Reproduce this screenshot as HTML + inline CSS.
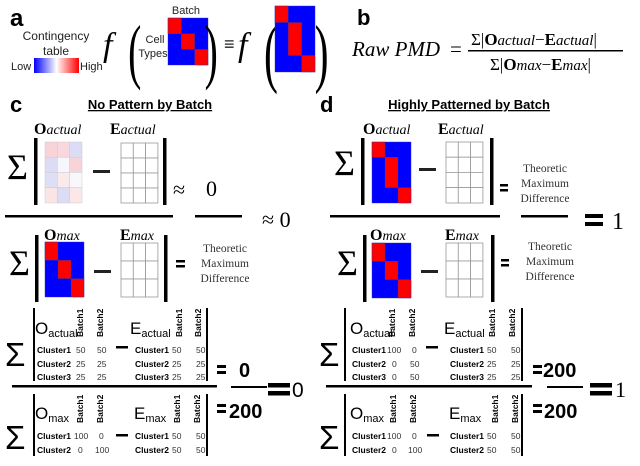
<!DOCTYPE html>
<html><head><meta charset="utf-8"><style>
body{margin:0;background:#fff;width:640px;height:466px;overflow:hidden}
svg{display:block}
.s{font-family:"Liberation Sans",sans-serif}
.r{font-family:"Liberation Serif","DejaVu Serif",serif}
.cl{font-family:"Liberation Sans",sans-serif;font-size:8.5px;font-weight:bold}
.v{font-family:"Liberation Sans",sans-serif;font-size:8.5px;fill:#333}
.bt{font-family:"Liberation Sans",sans-serif;font-size:8.5px;font-weight:bold}
.g rect{fill:#fff;stroke:#999;stroke-width:0.8}
</style></head><body>
<svg width="640" height="466" viewBox="0 0 640 466" xmlns="http://www.w3.org/2000/svg">
<defs><linearGradient id="gr" x1="0" x2="1"><stop offset="0" stop-color="#0000ff"/><stop offset="0.5" stop-color="#fff"/><stop offset="1" stop-color="#ff0000"/></linearGradient></defs>

<!-- panel a -->
<text x="10" y="26" class="s" font-size="24" font-weight="bold">a</text>
<text x="56" y="40" class="s" font-size="12" text-anchor="middle" fill="#222">Contingency</text>
<text x="56" y="55" class="s" font-size="12" text-anchor="middle" fill="#222">table</text>
<rect x="34" y="58" width="45" height="15" fill="url(#gr)"/>
<text x="11" y="70" class="s" font-size="11" fill="#222">Low</text>
<text x="80" y="70" class="s" font-size="11" fill="#222">High</text>
<text x="103" y="56" class="r" font-size="34" font-style="italic">f</text>
<text x="128" y="75" class="r" font-size="72" font-weight="100" transform="scale(0.55,1) translate(105,0)">(</text>
<text x="155" y="43" class="s" font-size="11" text-anchor="middle" fill="#222">Cell</text>
<text x="153" y="57" class="s" font-size="11" text-anchor="middle" fill="#222">Types</text>
<text x="186" y="14" class="s" font-size="11" text-anchor="middle" fill="#222">Batch</text>
<g stroke="#3333aa" stroke-width="0.4">
<rect x="168" y="18" width="40" height="47" fill="#0000ff"/>
<rect x="168" y="18" width="13.3" height="15.7" fill="#ff0000"/>
<rect x="181.3" y="33.7" width="13.3" height="15.7" fill="#ff0000"/>
<rect x="194.6" y="49.4" width="13.4" height="15.6" fill="#ff0000"/>
</g>
<text x="372" y="75" class="r" font-size="72" transform="scale(0.55,1)">)</text>
<text x="224" y="50" class="s" font-size="18" fill="#222">≡</text>
<text x="238" y="56" class="r" font-size="34" font-style="italic">f</text>
<text x="480" y="78" class="r" font-size="76" transform="scale(0.55,1)">(</text>
<g stroke="#3333aa" stroke-width="0.4">
<rect x="275" y="6" width="40" height="66" fill="#0000ff"/>
<rect x="275" y="6" width="13.3" height="16.5" fill="#ff0000"/>
<rect x="288.3" y="22.5" width="13.3" height="33" fill="#ff0000"/>
<rect x="301.6" y="55.5" width="13.4" height="16.5" fill="#ff0000"/>
</g>
<text x="572" y="78" class="r" font-size="76" transform="scale(0.55,1)">)</text>

<!-- panel b -->
<text x="357" y="25" class="s" font-size="22" font-weight="bold">b</text>
<text x="352" y="56" class="r" font-size="21" font-style="italic">Raw PMD</text>
<text x="450" y="56" class="r" font-size="21">=</text>
<text x="471" y="45" class="r" font-size="17">Σ|<tspan font-weight="bold">O</tspan><tspan font-style="italic" font-size="15">actual</tspan>−<tspan font-weight="bold">E</tspan><tspan font-style="italic" font-size="15">actual</tspan>|</text>
<rect x="468" y="50" width="155" height="1.5" fill="#000"/>
<text x="490" y="70" class="r" font-size="17">Σ|<tspan font-weight="bold">O</tspan><tspan font-style="italic" font-size="15">max</tspan>−<tspan font-weight="bold">E</tspan><tspan font-style="italic" font-size="15">max</tspan>|</text>

<!-- panel c top -->
<text x="10" y="112" class="s" font-size="22" font-weight="bold">c</text>
<text x="150" y="109" class="s" font-size="13" font-weight="bold" text-anchor="middle" text-decoration="underline">No Pattern by Batch</text>
<text x="34" y="134" class="r" font-size="16"><tspan font-weight="bold">O</tspan><tspan font-style="italic" font-size="14">actual</tspan></text>
<text x="110" y="134" class="r" font-size="16"><tspan font-weight="bold">E</tspan><tspan font-style="italic" font-size="14">actual</tspan></text>
<text x="7" y="179" class="r" font-size="36">Σ</text>
<rect x="34" y="138" width="3.5" height="67" fill="#000"/>
<g stroke="#ccc" stroke-width="0.5">
<rect x="45" y="142" width="12.3" height="15.2" fill="#f8d4d8"/><rect x="57.3" y="142" width="12.3" height="15.2" fill="#f8d8dc"/><rect x="69.6" y="142" width="12.4" height="15.2" fill="#dcdcf6"/>
<rect x="45" y="157.2" width="12.3" height="15.2" fill="#dcdcf4"/><rect x="57.3" y="157.2" width="12.3" height="15.2" fill="#f6f6fc"/><rect x="69.6" y="157.2" width="12.4" height="15.2" fill="#f8d4d8"/>
<rect x="45" y="172.4" width="12.3" height="15.2" fill="#dedef6"/><rect x="57.3" y="172.4" width="12.3" height="15.2" fill="#faeaea"/><rect x="69.6" y="172.4" width="12.4" height="15.2" fill="#f8f8fc"/>
<rect x="45" y="187.6" width="12.3" height="15.4" fill="#fae4e6"/><rect x="57.3" y="187.6" width="12.3" height="15.4" fill="#dcdcf4"/><rect x="69.6" y="187.6" width="12.4" height="15.4" fill="#fbe6e8"/>
</g>
<rect x="93" y="170" width="17" height="3" fill="#222"/>
<g class="g"><rect x="121" y="143" width="12.3" height="15"/><rect x="133.3" y="143" width="12.3" height="15"/><rect x="145.6" y="143" width="12.3" height="15"/>
<rect x="121" y="158" width="12.3" height="15"/><rect x="133.3" y="158" width="12.3" height="15"/><rect x="145.6" y="158" width="12.3" height="15"/>
<rect x="121" y="173" width="12.3" height="15"/><rect x="133.3" y="173" width="12.3" height="15"/><rect x="145.6" y="173" width="12.3" height="15"/>
<rect x="121" y="188" width="12.3" height="15"/><rect x="133.3" y="188" width="12.3" height="15"/><rect x="145.6" y="188" width="12.3" height="15"/></g>
<rect x="163" y="138" width="3.5" height="67" fill="#000"/>
<text x="173" y="197" class="r" font-size="22">≈</text>
<text x="206" y="196" class="r" font-size="22">0</text>
<rect x="5" y="215" width="168" height="2.5" fill="#000"/>
<rect x="195" y="215" width="47" height="2.5" fill="#000"/>
<text x="262" y="227" class="r" font-size="22">≈ 0</text>

<text x="44" y="240" class="r" font-size="16"><tspan font-weight="bold">O</tspan><tspan font-style="italic" font-size="14">max</tspan></text>
<text x="120" y="240" class="r" font-size="16"><tspan font-weight="bold">E</tspan><tspan font-style="italic" font-size="14">max</tspan></text>
<text x="9" y="275" class="r" font-size="36">Σ</text>
<rect x="35" y="235" width="3.5" height="67" fill="#000"/>
<g stroke="#3333aa" stroke-width="0.4">
<rect x="45" y="242" width="39" height="55" fill="#0000ff"/>
<rect x="45" y="242" width="13" height="18.3" fill="#ff0000"/>
<rect x="58" y="260.3" width="13" height="18.3" fill="#ff0000"/>
<rect x="71" y="278.6" width="13" height="18.4" fill="#ff0000"/>
</g>
<rect x="94" y="270" width="17" height="3" fill="#222"/>
<g class="g"><rect x="121" y="243" width="12.3" height="18"/><rect x="133.3" y="243" width="12.3" height="18"/><rect x="145.6" y="243" width="12.3" height="18"/>
<rect x="121" y="261" width="12.3" height="18"/><rect x="133.3" y="261" width="12.3" height="18"/><rect x="145.6" y="261" width="12.3" height="18"/>
<rect x="121" y="279" width="12.3" height="18"/><rect x="133.3" y="279" width="12.3" height="18"/><rect x="145.6" y="279" width="12.3" height="18"/></g>
<rect x="164" y="235" width="3.5" height="67" fill="#000"/>
<rect x="176" y="260" width="9" height="2.5" fill="#000"/><rect x="176" y="265" width="9" height="2.5" fill="#000"/>
<g class="r" font-size="11.5" fill="#333" text-anchor="middle"><text x="225" y="252">Theoretic</text><text x="225" y="267">Maximum</text><text x="225" y="282">Difference</text></g>

<!-- panel d top -->
<text x="320" y="112" class="s" font-size="22" font-weight="bold">d</text>
<text x="469" y="109" class="s" font-size="13" font-weight="bold" text-anchor="middle" text-decoration="underline">Highly Patterned by Batch</text>
<text x="363" y="134" class="r" font-size="16"><tspan font-weight="bold">O</tspan><tspan font-style="italic" font-size="14">actual</tspan></text>
<text x="438" y="134" class="r" font-size="16"><tspan font-weight="bold">E</tspan><tspan font-style="italic" font-size="14">actual</tspan></text>
<text x="334" y="175" class="r" font-size="36">Σ</text>
<rect x="361" y="138" width="3.5" height="67" fill="#000"/>
<g stroke="#3333aa" stroke-width="0.4">
<rect x="372" y="142" width="39" height="61" fill="#0000ff"/>
<rect x="372" y="142" width="13" height="15.2" fill="#ff0000"/>
<rect x="385" y="157.2" width="13" height="30.4" fill="#ff0000"/>
<rect x="398" y="187.6" width="13" height="15.4" fill="#ff0000"/>
</g>
<rect x="419" y="168" width="17" height="3" fill="#222"/>
<g class="g"><rect x="446" y="142" width="12.3" height="15.2"/><rect x="458.3" y="142" width="12.3" height="15.2"/><rect x="470.6" y="142" width="12.3" height="15.2"/>
<rect x="446" y="157.2" width="12.3" height="15.2"/><rect x="458.3" y="157.2" width="12.3" height="15.2"/><rect x="470.6" y="157.2" width="12.3" height="15.2"/>
<rect x="446" y="172.4" width="12.3" height="15.2"/><rect x="458.3" y="172.4" width="12.3" height="15.2"/><rect x="470.6" y="172.4" width="12.3" height="15.2"/>
<rect x="446" y="187.6" width="12.3" height="15.4"/><rect x="458.3" y="187.6" width="12.3" height="15.4"/><rect x="470.6" y="187.6" width="12.3" height="15.4"/></g>
<rect x="490" y="138" width="3.5" height="67" fill="#000"/>
<rect x="500" y="184" width="8" height="2.5" fill="#000"/><rect x="500" y="189" width="8" height="2.5" fill="#000"/>
<g class="r" font-size="11.5" fill="#333" text-anchor="middle"><text x="545" y="172">Theoretic</text><text x="545" y="187">Maximum</text><text x="545" y="202">Difference</text></g>
<rect x="330" y="215" width="170" height="2.5" fill="#000"/>
<rect x="521" y="215" width="47" height="2.5" fill="#000"/>
<rect x="585" y="214" width="18" height="4" fill="#000"/><rect x="585" y="222" width="18" height="4" fill="#000"/>
<text x="612" y="229" class="r" font-size="24">1</text>

<text x="370" y="240" class="r" font-size="16"><tspan font-weight="bold">O</tspan><tspan font-style="italic" font-size="14">max</tspan></text>
<text x="445" y="240" class="r" font-size="16"><tspan font-weight="bold">E</tspan><tspan font-style="italic" font-size="14">max</tspan></text>
<text x="337" y="275" class="r" font-size="36">Σ</text>
<rect x="363" y="235" width="3.5" height="67" fill="#000"/>
<g stroke="#3333aa" stroke-width="0.4">
<rect x="372" y="243" width="39" height="55" fill="#0000ff"/>
<rect x="372" y="243" width="13" height="18.3" fill="#ff0000"/>
<rect x="385" y="261.3" width="13" height="18.3" fill="#ff0000"/>
<rect x="398" y="279.6" width="13" height="18.4" fill="#ff0000"/>
</g>
<rect x="421" y="270" width="17" height="3" fill="#222"/>
<g class="g"><rect x="446" y="243" width="12.3" height="18"/><rect x="458.3" y="243" width="12.3" height="18"/><rect x="470.6" y="243" width="12.3" height="18"/>
<rect x="446" y="261" width="12.3" height="18"/><rect x="458.3" y="261" width="12.3" height="18"/><rect x="470.6" y="261" width="12.3" height="18"/>
<rect x="446" y="279" width="12.3" height="18"/><rect x="458.3" y="279" width="12.3" height="18"/><rect x="470.6" y="279" width="12.3" height="18"/></g>
<rect x="491" y="235" width="3.5" height="67" fill="#000"/>
<rect x="501" y="259" width="8" height="2.5" fill="#000"/><rect x="501" y="264" width="8" height="2.5" fill="#000"/>
<g class="r" font-size="11.5" fill="#333" text-anchor="middle"><text x="550" y="250">Theoretic</text><text x="550" y="265">Maximum</text><text x="550" y="280">Difference</text></g>

<!-- bottom c -->
<g>
<text x="5" y="366" class="s" font-size="33">Σ</text>
<rect x="33" y="308" width="2" height="73" fill="#000"/>
<text x="35" y="334" class="s" font-size="17">O<tspan font-size="11" dy="3">actual</tspan></text>
<text class="bt" transform="translate(83,337) rotate(-90)">Batch1</text>
<text class="bt" transform="translate(103,337) rotate(-90)">Batch2</text>
<rect x="116" y="346" width="12" height="2.5" fill="#000"/>
<text x="130" y="334" class="s" font-size="17">E<tspan font-size="11" dy="3">actual</tspan></text>
<text class="bt" transform="translate(182,337) rotate(-90)">Batch1</text>
<text class="bt" transform="translate(201,337) rotate(-90)">Batch2</text>
<rect x="206" y="308" width="2" height="73" fill="#000"/>
<text x="37" y="353" class="cl">Cluster1</text><text x="76" y="353" class="v">50</text><text x="97" y="353" class="v">50</text>
<text x="37" y="367" class="cl">Cluster2</text><text x="76" y="367" class="v">25</text><text x="97" y="367" class="v">25</text>
<text x="37" y="380" class="cl">Cluster3</text><text x="76" y="380" class="v">25</text><text x="97" y="380" class="v">25</text>
<text x="135" y="353" class="cl">Cluster1</text><text x="172" y="353" class="v">50</text><text x="196" y="353" class="v">50</text>
<text x="135" y="367" class="cl">Cluster2</text><text x="172" y="367" class="v">25</text><text x="196" y="367" class="v">25</text>
<text x="135" y="380" class="cl">Cluster3</text><text x="172" y="380" class="v">25</text><text x="196" y="380" class="v">25</text>

<text x="5" y="449" class="s" font-size="33">Σ</text>
<rect x="33" y="394" width="2" height="62" fill="#000"/>
<text x="35" y="419" class="s" font-size="17">O<tspan font-size="11" dy="3">max</tspan></text>
<text class="bt" transform="translate(83,423) rotate(-90)">Batch1</text>
<text class="bt" transform="translate(103,423) rotate(-90)">Batch2</text>
<rect x="116" y="434" width="12" height="2.5" fill="#000"/>
<text x="134" y="419" class="s" font-size="17">E<tspan font-size="11" dy="3">max</tspan></text>
<text class="bt" transform="translate(180,423) rotate(-90)">Batch1</text>
<text class="bt" transform="translate(200,423) rotate(-90)">Batch2</text>
<rect x="206" y="394" width="2" height="62" fill="#000"/>
<text x="37" y="439" class="cl">Cluster1</text><text x="74" y="439" class="v">100</text><text x="99" y="439" class="v">0</text>
<text x="37" y="453" class="cl">Cluster2</text><text x="78" y="453" class="v">0</text><text x="95" y="453" class="v">100</text>
<text x="135" y="439" class="cl">Cluster1</text><text x="172" y="439" class="v">50</text><text x="196" y="439" class="v">50</text>
<text x="135" y="453" class="cl">Cluster2</text><text x="172" y="453" class="v">50</text><text x="196" y="453" class="v">50</text>
</g>
<rect x="12" y="385" width="205" height="2.5" fill="#000"/>
<rect x="217" y="365" width="9" height="3" fill="#000"/><rect x="217" y="371" width="9" height="3" fill="#000"/>
<text x="239" y="377" class="s" font-size="20" font-weight="bold">0</text>
<rect x="231" y="386" width="36" height="2" fill="#000"/>
<rect x="268" y="383" width="22" height="4.5" fill="#000"/><rect x="268" y="391" width="22" height="4.5" fill="#000"/>
<text x="292" y="397" class="s" font-size="21">0</text>
<rect x="217" y="404" width="9" height="3" fill="#000"/><rect x="217" y="410" width="9" height="3" fill="#000"/>
<text x="229" y="418" class="s" font-size="20" font-weight="bold">200</text>

<!-- bottom d -->
<g transform="translate(314,0)">
<text x="5" y="366" class="s" font-size="33">Σ</text>
<rect x="30" y="308" width="2" height="73" fill="#000"/>
<text x="36" y="334" class="s" font-size="17">O<tspan font-size="11" dy="3">actual</tspan></text>
<text class="bt" transform="translate(81,337) rotate(-90)">Batch1</text>
<text class="bt" transform="translate(101,337) rotate(-90)">Batch2</text>
<rect x="112" y="346" width="12" height="2.5" fill="#000"/>
<text x="130" y="334" class="s" font-size="17">E<tspan font-size="11" dy="3">actual</tspan></text>
<text class="bt" transform="translate(181,337) rotate(-90)">Batch1</text>
<text class="bt" transform="translate(201,337) rotate(-90)">Batch2</text>
<rect x="207" y="308" width="2" height="73" fill="#000"/>
<text x="38" y="353" class="cl">Cluster1</text><text x="73" y="353" class="v">100</text><text x="98" y="353" class="v">0</text>
<text x="38" y="367" class="cl">Cluster2</text><text x="78" y="367" class="v">0</text><text x="96" y="367" class="v">50</text>
<text x="38" y="380" class="cl">Cluster3</text><text x="78" y="380" class="v">0</text><text x="96" y="380" class="v">50</text>
<text x="136" y="353" class="cl">Cluster1</text><text x="173" y="353" class="v">50</text><text x="197" y="353" class="v">50</text>
<text x="136" y="367" class="cl">Cluster2</text><text x="173" y="367" class="v">25</text><text x="197" y="367" class="v">25</text>
<text x="136" y="380" class="cl">Cluster3</text><text x="173" y="380" class="v">25</text><text x="197" y="380" class="v">25</text>

<text x="5" y="449" class="s" font-size="33">Σ</text>
<rect x="30" y="394" width="2" height="62" fill="#000"/>
<text x="36" y="419" class="s" font-size="17">O<tspan font-size="11" dy="3">max</tspan></text>
<text class="bt" transform="translate(82,423) rotate(-90)">Batch1</text>
<text class="bt" transform="translate(102,423) rotate(-90)">Batch2</text>
<rect x="113" y="434" width="12" height="2.5" fill="#000"/>
<text x="135" y="419" class="s" font-size="17">E<tspan font-size="11" dy="3">max</tspan></text>
<text class="bt" transform="translate(184,423) rotate(-90)">Batch1</text>
<text class="bt" transform="translate(204,423) rotate(-90)">Batch2</text>
<rect x="207" y="394" width="2" height="62" fill="#000"/>
<text x="38" y="439" class="cl">Cluster1</text><text x="73" y="439" class="v">100</text><text x="98" y="439" class="v">0</text>
<text x="38" y="453" class="cl">Cluster2</text><text x="78" y="453" class="v">0</text><text x="94" y="453" class="v">100</text>
<text x="136" y="439" class="cl">Cluster1</text><text x="173" y="439" class="v">50</text><text x="197" y="439" class="v">50</text>
<text x="136" y="453" class="cl">Cluster2</text><text x="173" y="453" class="v">50</text><text x="197" y="453" class="v">50</text>
</g>
<rect x="326" y="385" width="206" height="2.5" fill="#000"/>
<rect x="533" y="365" width="9" height="3" fill="#000"/><rect x="533" y="371" width="9" height="3" fill="#000"/>
<text x="543" y="377" class="s" font-size="20" font-weight="bold">200</text>
<rect x="547" y="386" width="36" height="2" fill="#000"/>
<rect x="590" y="383" width="22" height="4.5" fill="#000"/><rect x="590" y="391" width="22" height="4.5" fill="#000"/>
<text x="615" y="397" class="r" font-size="22">1</text>
<rect x="533" y="404" width="9" height="3" fill="#000"/><rect x="533" y="410" width="9" height="3" fill="#000"/>
<text x="544" y="418" class="s" font-size="20" font-weight="bold">200</text>
</svg>
</body></html>
